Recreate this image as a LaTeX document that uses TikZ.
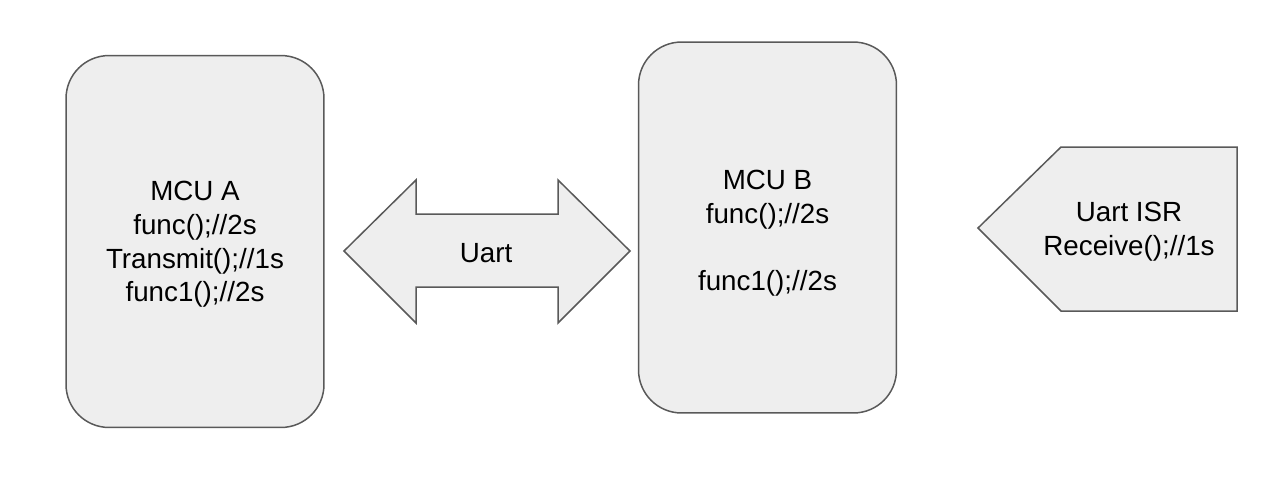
\documentclass[tikz,border=0pt]{standalone}
\usepackage{fontspec}
\setmainfont{Liberation Sans}
\usepackage{xcolor}
\usetikzlibrary{calc}

\definecolor{boxfill}{HTML}{EEEEEE}
\definecolor{boxline}{HTML}{595959}

\tikzset{
  mcu/.style={draw=boxline,fill=boxfill,line width=0.85pt,rounded corners=0.86cm,
    minimum width=5.16cm,minimum height=7.44cm,inner sep=0pt},
  shp/.style={draw=boxline,fill=boxfill,line width=0.85pt,line join=miter},
  txt/.style={align=center,inner sep=0pt,font=\fontsize{15.8}{19.2}\selectfont}
}

\begin{document}
\begin{tikzpicture}[x=0.02cm,y=-0.02cm]
  % Two MCUs linked by a Uart double arrow, ISR tag on the right.
  \useasboundingbox (0,0) rectangle (1278,481);

  \node[mcu] (mcuA) at (195,241.5) {};
  \node[mcu,minimum height=7.42cm] (mcuB) at (767.5,227.5) {};

  \coordinate (L) at (344,251);
  \coordinate (R) at (630,251);
  \draw[shp] (L) -- (416,180) -- (416,214) -- (558,214) -- (558,180)
    -- (R) -- (558,323) -- (558,287) -- (416,287) -- (416,323) -- cycle;

  \coordinate (T) at (978,228);
  \draw[shp] (T) -- (1061,147) -- (1237,147) -- (1237,311) -- (1061,311) -- cycle;

  \node[txt] (txtA) at (195,244.5) {MCU A\\func();//2s\\Transmit();//1s\\func1();//2s};
  \node[txt] (txtB) at (767.5,233.5) {MCU B\\func();//2s\\\strut\\func1();//2s};
  \node[txt] (uart) at (486,253) {Uart};
  \node[txt] (isr) at (1129,232) {Uart ISR\\Receive();//1s};
\end{tikzpicture}
\end{document}
